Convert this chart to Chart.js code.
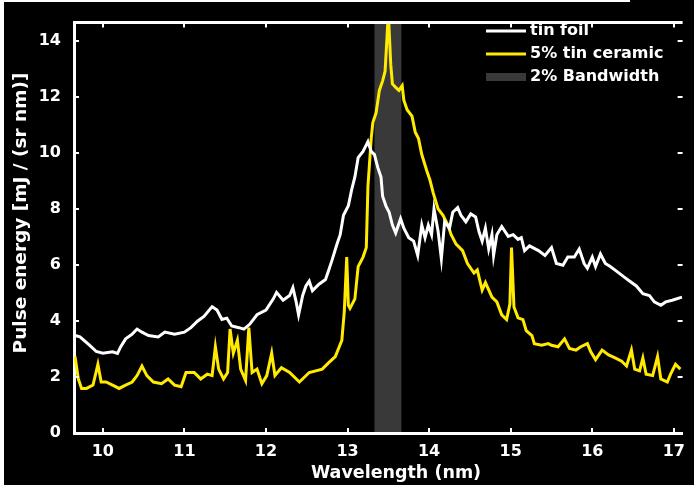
<!DOCTYPE html>
<html lang="en">
<head>
<meta charset="UTF-8">
<title>Pulse energy spectrum</title>
<script src="https://cdn.jsdelivr.net/npm/chart.js"></script>
<style>
  body { margin: 0; background: #000; }
  #chartContainer { width: 694px; height: 485px; position: relative; }
</style>
</head>
<body>
<div id="chartContainer"><canvas id="myChart"></canvas></div>
<script>
// tin foil spectrum (nm, mJ/(sr nm))
const foilWavelength = [9.66, 9.72, 9.84, 9.92, 10.00, 10.12, 10.18, 10.22, 10.28, 10.36, 10.42, 10.48, 10.56, 10.68, 10.76, 10.88, 11.00, 11.08, 11.16, 11.24,
  11.34, 11.40, 11.46, 11.52, 11.58, 11.67, 11.73, 11.80, 11.89, 12.00, 12.09, 12.13, 12.21, 12.29, 12.33, 12.37, 12.40, 12.45, 12.49, 12.53,
  12.57, 12.65, 12.73, 12.77, 12.81, 12.87, 12.91, 12.95, 13.01, 13.05, 13.09, 13.13, 13.19, 13.25, 13.29, 13.33, 13.37, 13.41, 13.43, 13.47,
  13.51, 13.55, 13.59, 13.65, 13.69, 13.75, 13.81, 13.86, 13.91, 13.95, 13.99, 14.03, 14.06, 14.11, 14.15, 14.19, 14.25, 14.29, 14.35, 14.39,
  14.45, 14.51, 14.57, 14.61, 14.65, 14.69, 14.73, 14.77, 14.79, 14.83, 14.89, 14.97, 15.03, 15.09, 15.13, 15.17, 15.23, 15.34, 15.42, 15.50,
  15.56, 15.64, 15.70, 15.78, 15.84, 15.90, 15.94, 16.00, 16.04, 16.10, 16.16, 16.22, 16.30, 16.38, 16.46, 16.54, 16.62, 16.70, 16.76, 16.84,
  16.90, 16.98, 17.10];
const foilEnergy = [3.48, 3.43, 3.13, 2.91, 2.85, 2.90, 2.84, 3.08, 3.36, 3.53, 3.71, 3.60, 3.48, 3.43, 3.60, 3.53, 3.60, 3.76, 3.99, 4.16,
  4.51, 4.39, 4.05, 4.10, 3.82, 3.76, 3.71, 3.88, 4.22, 4.39, 4.79, 5.02, 4.74, 4.91, 5.19, 4.68, 4.22, 4.91, 5.25, 5.42,
  5.08, 5.31, 5.48, 5.82, 6.17, 6.74, 7.08, 7.77, 8.11, 8.68, 9.14, 9.83, 10.05, 10.40, 10.05, 9.94, 9.48, 9.14, 8.45, 8.11,
  7.88, 7.42, 7.14, 7.65, 7.31, 6.97, 6.85, 6.34, 7.42, 6.97, 7.42, 7.08, 8.00, 7.20, 6.22, 7.54, 7.31, 7.88, 8.05, 7.77,
  7.54, 7.82, 7.71, 7.20, 6.85, 7.31, 6.57, 7.08, 6.34, 7.08, 7.37, 7.02, 7.08, 6.91, 6.97, 6.51, 6.68, 6.51, 6.34, 6.62,
  6.05, 5.99, 6.28, 6.28, 6.57, 6.05, 5.88, 6.28, 5.94, 6.39, 6.05, 5.94, 5.77, 5.59, 5.42, 5.25, 4.97, 4.91, 4.68, 4.56,
  4.68, 4.74, 4.85];

// 5% tin ceramic spectrum
const ceramicWavelength = [9.66, 9.70, 9.74, 9.80, 9.88, 9.94, 9.98, 10.04, 10.12, 10.20, 10.28, 10.36, 10.42, 10.48, 10.54, 10.62, 10.72, 10.80, 10.88, 10.96,
  11.02, 11.12, 11.20, 11.28, 11.34, 11.38, 11.42, 11.48, 11.53, 11.56, 11.60, 11.65, 11.69, 11.75, 11.79, 11.83, 11.89, 11.95, 12.01, 12.07,
  12.11, 12.19, 12.29, 12.41, 12.53, 12.69, 12.77, 12.85, 12.93, 12.96, 12.99, 13.01, 13.03, 13.09, 13.13, 13.19, 13.23, 13.25, 13.29, 13.31,
  13.35, 13.39, 13.43, 13.46, 13.48, 13.50, 13.53, 13.55, 13.59, 13.63, 13.67, 13.69, 13.73, 13.79, 13.83, 13.87, 13.91, 13.97, 14.01, 14.05,
  14.11, 14.17, 14.23, 14.27, 14.33, 14.41, 14.47, 14.55, 14.59, 14.65, 14.69, 14.77, 14.83, 14.89, 14.95, 14.99, 15.01, 15.04, 15.09, 15.15,
  15.19, 15.26, 15.29, 15.38, 15.46, 15.50, 15.58, 15.66, 15.72, 15.80, 15.86, 15.94, 15.98, 16.04, 16.12, 16.20, 16.28, 16.36, 16.42, 16.48,
  16.52, 16.58, 16.62, 16.66, 16.74, 16.80, 16.84, 16.92, 16.96, 17.02, 17.08];
const ceramicEnergy = [2.73, 1.93, 1.59, 1.59, 1.71, 2.45, 1.82, 1.82, 1.71, 1.59, 1.71, 1.82, 2.05, 2.39, 2.05, 1.82, 1.76, 1.93, 1.71, 1.65,
  2.16, 2.16, 1.93, 2.10, 2.05, 3.08, 2.28, 1.93, 2.16, 3.71, 2.85, 3.31, 2.28, 1.88, 3.76, 2.16, 2.28, 1.76, 2.05, 2.85,
  2.05, 2.33, 2.16, 1.82, 2.16, 2.28, 2.51, 2.73, 3.31, 4.33, 6.28, 4.56, 4.45, 4.79, 5.94, 6.28, 6.62, 8.80, 10.51, 11.08,
  11.43, 12.23, 12.57, 12.91, 13.94, 15.00, 13.14, 12.46, 12.34, 12.23, 12.40, 11.88, 11.54, 11.31, 10.74, 10.51, 9.94, 9.37, 9.03, 8.57,
  8.00, 7.77, 7.42, 7.08, 6.74, 6.51, 6.05, 5.71, 5.82, 5.10, 5.37, 4.85, 4.68, 4.22, 4.05, 4.60, 6.62, 4.50, 4.11, 4.05,
  3.65, 3.48, 3.19, 3.13, 3.19, 3.13, 3.08, 3.36, 3.02, 2.96, 3.08, 3.19, 2.91, 2.62, 2.96, 2.79, 2.68, 2.56, 2.39, 2.96,
  2.28, 2.22, 2.68, 2.10, 2.05, 2.73, 1.93, 1.82, 2.10, 2.45, 2.28];

const bandRange = [13.33, 13.66];   // 2% bandwidth around 13.5 nm
const xTicks = [10, 11, 12, 13, 14, 15, 16, 17];
const yTicks = [0, 2, 4, 6, 8, 10, 12, 14];

const foilColor = '#ffffff';
const ceramicColor = '#ffea00';
const bandColor = '#3a393a';
const font = '"DejaVu Sans", Verdana, sans-serif';

function toPoints(xs, ys) {
    return xs.map((x, i) => ({ x: x, y: ys[i] }));
}

// black page, band, inward ticks, top frame, titles and legend
const framePlugin = {
    id: 'frame',
    beforeDraw(chart) {
        const ctx = chart.ctx;
        ctx.save();
        ctx.fillStyle = '#000';
        ctx.fillRect(0, 0, chart.width, chart.height);
        ctx.fillStyle = '#fff';
        ctx.fillRect(0, 0, 4, chart.height);
        ctx.fillRect(0, 0, 630, 2);
        ctx.restore();
    },
    beforeDatasetsDraw(chart) {
        const { ctx, chartArea: a, scales: { x } } = chart;
        const x0 = x.getPixelForValue(bandRange[0]);
        const x1 = x.getPixelForValue(bandRange[1]);
        ctx.save();
        ctx.fillStyle = bandColor;
        ctx.fillRect(x0, a.top + 1, x1 - x0, a.bottom - a.top - 2);
        ctx.restore();
    },
    afterDraw(chart) {
        const { ctx, chartArea: a, scales: { x, y } } = chart;
        ctx.save();
        ctx.strokeStyle = '#fff';
        ctx.lineWidth = 3;
        ctx.beginPath();
        ctx.moveTo(a.left - 1, a.top);
        ctx.lineTo(a.right, a.top);
        ctx.stroke();

        ctx.lineWidth = 2;
        ctx.beginPath();
        xTicks.forEach(v => {
            const px = Math.round(x.getPixelForValue(v));
            ctx.moveTo(px, a.bottom); ctx.lineTo(px, a.bottom - 5);
            ctx.moveTo(px, a.top); ctx.lineTo(px, a.top + 5);
        });
        yTicks.forEach(v => {
            const py = Math.round(y.getPixelForValue(v));
            ctx.moveTo(a.left, py); ctx.lineTo(a.left + 5, py);
            ctx.moveTo(a.right, py); ctx.lineTo(a.right - 5, py);
        });
        ctx.stroke();

        // axis titles (the original frame runs past the right edge, so titles sit off-centre)
        ctx.fillStyle = '#fff';
        ctx.textAlign = 'center';
        ctx.textBaseline = 'middle';
        ctx.font = 'bold 17.5px ' + font;
        ctx.fillText('Wavelength (nm)', 396, 473);
        ctx.save();
        ctx.translate(21, 213);
        ctx.rotate(-Math.PI / 2);
        ctx.font = 'bold 18.5px ' + font;
        ctx.fillText('Pulse energy [mJ / (sr nm)]', 0, 0);
        ctx.restore();

        // legend
        const items = [
            { label: chart.data.datasets[0].label, color: foilColor, box: false },
            { label: chart.data.datasets[1].label, color: ceramicColor, box: false },
            { label: '2% Bandwidth', color: bandColor, box: true }
        ];
        ctx.font = 'bold 16px ' + font;
        ctx.textAlign = 'left';
        items.forEach((it, i) => {
            const cy = 31 + i * 23;
            if (it.box) {
                ctx.fillStyle = it.color;
                ctx.fillRect(486, cy - 4, 40, 8);
            } else {
                ctx.strokeStyle = it.color;
                ctx.lineWidth = 3;
                ctx.beginPath();
                ctx.moveTo(486, cy);
                ctx.lineTo(526, cy);
                ctx.stroke();
            }
            ctx.fillStyle = '#fff';
            ctx.fillText(it.label, 530, cy);
        });
        ctx.restore();
    }
};

const ctx = document.getElementById('myChart').getContext('2d');
const myChart = new Chart(ctx, {
    type: 'line',
    data: {
        datasets: [{
            label: 'tin foil',
            data: toPoints(foilWavelength, foilEnergy),
            borderColor: foilColor,
            borderWidth: 3,
            pointRadius: 0,
            tension: 0
        }, {
            label: '5% tin ceramic',
            data: toPoints(ceramicWavelength, ceramicEnergy),
            borderColor: ceramicColor,
            borderWidth: 3,
            pointRadius: 0,
            tension: 0
        }]
    },
    options: {
        responsive: true,
        maintainAspectRatio: false,
        animation: false,
        layout: { padding: { top: 6, right: 0, left: 0, bottom: 0 } },
        plugins: {
            legend: { display: false },
            tooltip: { enabled: false }
        },
        scales: {
            x: {
                type: 'linear',
                min: 9.647,
                max: 17.107,
                afterBuildTicks: s => { s.ticks = xTicks.map(v => ({ value: v })); },
                afterFit: s => { s.height = 52; },
                grid: { display: false, drawTicks: false },
                border: { display: true, color: '#fff', width: 3 },
                ticks: { color: '#fff', padding: 9, maxRotation: 0, font: { family: font, size: 16, weight: 'bold' } },
                title: { display: false }
            },
            y: {
                min: 0,
                max: 14.65,
                afterBuildTicks: s => { s.ticks = yTicks.map(v => ({ value: v })); },
                afterFit: s => { s.width = 74; },
                grid: { display: false, drawTicks: false },
                border: { display: true, color: '#fff', width: 3 },
                ticks: { color: '#fff', padding: 13, font: { family: font, size: 16, weight: 'bold' } },
                title: { display: false }
            }
        }
    },
    plugins: [framePlugin]
});
</script>
</body>
</html>
